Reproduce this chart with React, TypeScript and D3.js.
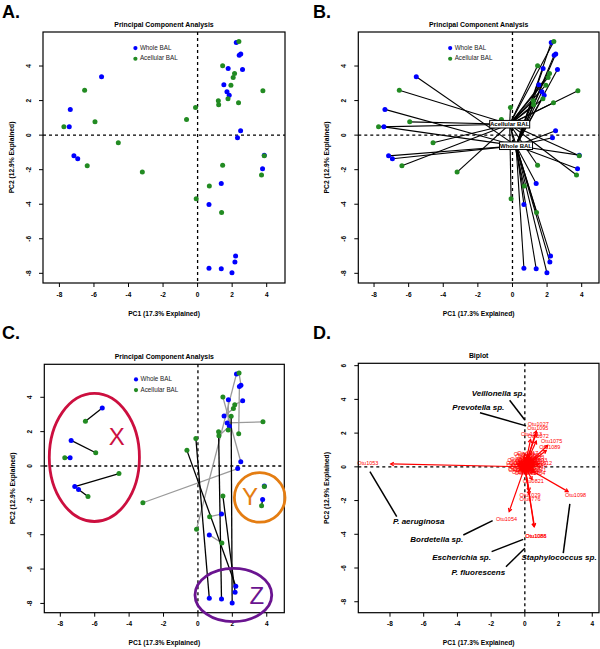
import React from "react";
import * as d3 from "d3";

// ---------- DATA ----------
// Samples are paired by index: WHOLE[i] and ACELL[i] come from the same subject.
const WHOLE_PC1 = [-5.56, -7.37, -7.43, -7.16, -6.94, 2.24, 2.5, 2.41, 1.77, 2.6, 1.52, 1.7, 1.83, 2.49, 2.31, 3.86, 3.76, 1.37, 0.66, 2.2, 2.16, 0.66, 1.37, 1.99];
const WHOLE_PC2 = [3.38, 1.49, 0.48, -1.2, -1.37, 5.36, 4.7, 4.63, 3.86, 3.8, 2.91, 2.51, 2.31, 0.25, -0.15, -1.16, -1.95, -2.8, -4.01, -7.0, -7.35, -7.7, -7.74, -7.97];
const ACELL_PC1 = [-6.54, -5.94, -7.74, -4.59, -6.39, -0.08, 2.39, 2.37, 1.76, 2.14, 2.06, 3.78, 1.22, 1.45, -3.2, 3.86, 3.7, 0.68, 1.39, -0.64, 1.45, -0.12, 1.2, 1.93];
const ACELL_PC2 = [2.6, 0.77, 0.48, -0.44, -1.77, -3.68, 5.42, 1.87, 2.1, 3.57, 3.34, 2.57, 1.76, 4.01, -2.14, -1.2, -2.31, -2.95, -4.48, 0.91, -1.74, 1.6, 1.99, 2.89];
const PAIR_GROUP = ["X", "X", "X", "X", "X", "", "", "", "", "", "", "", "", "", "", "Y", "Y", "", "", "Z", "Z", "Z", "Z", "Z"];

const GROUPS = ["Whole BAL", "Acellular BAL"];
const TICKS_ABC = [-8, -6, -4, -2, 0, 2, 4];
const TICKS_DX = [-8, -6, -4, -2, 0, 2, 4];
const TICKS_DY = [-8, -6, -4, -2, 0, 2, 4, 6];

// Panel C highlight ellipses (data units)
const ELLIPSE_LABEL = ["X", "Y", "Z"];
const ELLIPSE_CX = [-6.02, 3.59, 2.06];
const ELLIPSE_CY = [0.5, -1.83, -7.51];
const ELLIPSE_RX = [2.62, 1.47, 2.23];
const ELLIPSE_RY = [3.73, 1.44, 1.55];
const ELLIPSE_TX = [-4.72, 3.03, 3.42];
const ELLIPSE_TY = [1.71, -1.79, -7.51];

// Panel D biplot loadings (arrow tips)
const OTU_NAME = [
  "Otu1053", "Otu1054", "Otu1098", "Otu1088", "Otu1086", "Otu1029", "Otu0776", "Otu0821",
  "Otu1027", "Otu1095", "Otu1075", "Otu1013", "Otu1072", "Otu1089", "Otu1012",
  "Otu0012", "Otu0034", "Otu0101", "Otu0215", "Otu0330", "Otu0412", "Otu0458", "Otu0502",
  "Otu0561", "Otu0607", "Otu0644", "Otu0690", "Otu0713", "Otu0745", "Otu0802", "Otu0836",
  "Otu0871", "Otu0903", "Otu0937", "Otu0962", "Otu0991", "Otu1003", "Otu1017", "Otu1038",
  "Otu1041", "Otu1046", "Otu1060", "Otu1066", "Otu1079", "Otu1082", "Otu1091", "Otu1093",
  "Otu1099", "Otu1101", "Otu1104", "Otu1107"
];
const OTU_PC1 = [
  -7.96, -0.93, 2.57, 0.55, 0.57, 0.26, 0.26, 0.43,
  0.68, 0.66, 1.36, 0.34, 0.68, 1.27, 0.85,
  -0.35, -0.4, -0.3, -0.2, -0.12, 0.05, 0.12, 0.22,
  0.3, 0.38, 0.42, 0.33, 0.18, 0.03, -0.06, 0.09,
  0.18, -0.15, -0.21, 0.27, 0.5, 0.45, 0.15, -0.03,
  0.55, 0.58, -0.25, 0.09, 0.24, -0.09, 0.36, 0.6,
  0.06, -0.3, 0.52, -0.42
];
const OTU_PC2 = [
  0.17, -2.65, -1.47, -3.55, -3.53, -1.43, -1.64, -0.75,
  2.13, 1.96, 1.28, 1.62, 1.53, 0.97, 0.18,
  0.3, 0.05, -0.15, 0.35, -0.3, 0.5, 0.38, 0.3,
  0.22, 0.06, -0.06, -0.22, -0.3, -0.36, 0.18, 0.15,
  0.09, 0.09, -0.06, 0.4, 0.25, 0.45, 0.65, 0.6,
  -0.18, 0.06, 0.18, -0.18, -0.09, -0.12, 0.55, 0.33,
  0.27, -0.18, -0.33, 0.18
];

// Panel D species annotations
const SPECIES = ["Veillonella sp.", "Prevotella sp.", "P. aeruginosa", "Bordetella sp.", "Escherichia sp.", "P. fluorescens", "Staphylococcus sp."];
const SPECIES_TX = [-1.58, -2.76, -6.3, -5.23, -3.75, -2.76, 2.03];
const SPECIES_TY = [4.32, 3.51, -3.25, -4.34, -5.42, -6.31, -5.42];
const SPECIES_X1 = [-0.9, -2.66, -7.6, -3.65, -1.97, -1.12, 2.28];
const SPECIES_Y1 = [3.95, 3.21, -2.95, -4.04, -5.03, -5.92, -5.12];
const SPECIES_X2 = [0.0, 0.07, -9.19, -1.91, -0.09, 0.0, 2.67];
const SPECIES_Y2 = [2.78, 2.43, -0.28, -3.19, -4.3, -4.83, -2.2];

// ---------- STYLE ----------
const FONT = "Liberation Sans, Arial, Helvetica, sans-serif";
const BLUE = "#0000ff";
const GREEN = "#228b22";
const ELLIPSE_COLOR = ["#cc0f3f", "#e47d12", "#6a1490"];

type Lin = d3.ScaleLinear<number, number>;

function Frame({ x, y, xTicks, yTicks, title, children }: { x: Lin; y: Lin; xTicks: number[]; yTicks: number[]; title: string; children?: React.ReactNode }) {
  const [x0, x1] = x.range();
  const [y0, y1] = y.range();
  const cx = (x0 + x1) / 2;
  const cy = (y0 + y1) / 2;
  return (
    <g>
      <line x1={x0} x2={x1} y1={y(0)} y2={y(0)} stroke="#000" strokeWidth={1.3} strokeDasharray="3,3" />
      <line x1={x(0)} x2={x(0)} y1={y0} y2={y1} stroke="#000" strokeWidth={1.3} strokeDasharray="3,3" />
      {children}
      <rect x={x0} y={y0} width={x1 - x0} height={y1 - y0} fill="none" stroke="#000" strokeWidth={1.2} />
      {xTicks.map((t) => (
        <g key={"xt" + t}>
          <line x1={x(t)} x2={x(t)} y1={y1} y2={y1 + 4} stroke="#000" strokeWidth={1} />
          <text x={x(t)} y={y1 + 12} fontSize={6.5} fontWeight="bold" textAnchor="middle" dominantBaseline="middle" fontFamily={FONT}>{t}</text>
        </g>
      ))}
      {yTicks.map((t) => (
        <g key={"yt" + t}>
          <line x1={x0 - 4} x2={x0} y1={y(t)} y2={y(t)} stroke="#000" strokeWidth={1} />
          <text x={x0 - 14} y={y(t)} fontSize={6.5} fontWeight="bold" textAnchor="middle" dominantBaseline="middle" fontFamily={FONT} transform={`rotate(-90 ${x0 - 14} ${y(t)})`}>{t}</text>
        </g>
      ))}
      <text x={cx} y={y0 - 7} fontSize={6.9} fontWeight="bold" textAnchor="middle" dominantBaseline="middle" fontFamily={FONT}>{title}</text>
      <text x={cx} y={y1 + 31} fontSize={6.7} fontWeight="bold" textAnchor="middle" dominantBaseline="middle" fontFamily={FONT}>PC1 (17.3% Explained)</text>
      <text x={x0 - 31} y={cy} fontSize={6.7} fontWeight="bold" textAnchor="middle" dominantBaseline="middle" fontFamily={FONT} transform={`rotate(-90 ${x0 - 31} ${cy})`}>PC2 (12.9% Explained)</text>
    </g>
  );
}

function Legend({ x, y }: { x: Lin; y: Lin }) {
  const lx = x(-3.6);
  const ly = y(5.04);
  return (
    <g>
      {GROUPS.map((g, i) => (
        <g key={g}>
          <circle cx={lx} cy={ly + i * 10.7} r={2.1} fill={i === 0 ? BLUE : GREEN} />
          <text x={lx + 4.5} y={ly + i * 10.7} fontSize={6.3} dominantBaseline="middle" fontFamily={FONT} fill="#222">{g}</text>
        </g>
      ))}
    </g>
  );
}

function Points({ x, y }: { x: Lin; y: Lin }) {
  return (
    <g>
      {WHOLE_PC1.map((v, i) => (
        <circle key={"w" + i} cx={x(v)} cy={y(WHOLE_PC2[i])} r={2.5} fill={BLUE} />
      ))}
      {ACELL_PC1.map((v, i) => (
        <circle key={"a" + i} cx={x(v)} cy={y(ACELL_PC2[i])} r={2.5} fill={GREEN} />
      ))}
    </g>
  );
}

function arrowHead(x1: number, y1: number, x2: number, y2: number, len = 3.6) {
  const a = Math.atan2(y2 - y1, x2 - x1);
  const p1 = [x2 - len * Math.cos(a - Math.PI / 6), y2 - len * Math.sin(a - Math.PI / 6)];
  const p2 = [x2 - len * Math.cos(a + Math.PI / 6), y2 - len * Math.sin(a + Math.PI / 6)];
  return `M${p1[0]},${p1[1]}L${x2},${y2}L${p2[0]},${p2[1]}`;
}

export default function App() {
  const domX = [-8.95, 5.06];
  const domY = [5.97, -8.56];
  // Panel A
  const xA = d3.scaleLinear().domain(domX).range([43, 285]);
  const yA = d3.scaleLinear().domain(domY).range([32, 283]);
  // Panel B
  const xB = d3.scaleLinear().domain([-8.91, 5.0]).range([358.3, 599]);
  const yB = d3.scaleLinear().domain(domY).range([32, 283]);
  // Panel C
  const xC = d3.scaleLinear().domain([-8.93, 5.02]).range([44.3, 284.3]);
  const yC = d3.scaleLinear().domain([5.92, -8.54]).range([364.3, 612.7]);
  // Panel D
  const xD = d3.scaleLinear().domain([-9.88, 4.4]).range([358.3, 599]);
  const yD = d3.scaleLinear().domain([6.14, -8.65]).range([363.3, 612.7]);

  const cW = [d3.mean(WHOLE_PC1)!, d3.mean(WHOLE_PC2)!];
  const cA = [d3.mean(ACELL_PC1)!, d3.mean(ACELL_PC2)!];
  const centroids = [
    { label: "Acellular BAL", c: cA, w: 40 },
    { label: "Whole BAL", c: cW, w: 33 },
  ];

  return (
    <svg width={600} height={649} style={{ position: "absolute", left: 0, top: 0, background: "#fff" }} fontFamily={FONT}>
      <rect x={0} y={0} width={600} height={649} fill="#fff" />
      {/* Panel letters */}
      <text x={2} y={18} fontSize={18} fontWeight="bold">A.</text>
      <text x={313} y={18} fontSize={18} fontWeight="bold">B.</text>
      <text x={2} y={339} fontSize={18} fontWeight="bold">C.</text>
      <text x={313} y={339} fontSize={18} fontWeight="bold">D.</text>

      {/* Panel A */}
      <Frame x={xA} y={yA} xTicks={TICKS_ABC} yTicks={TICKS_ABC} title="Principal Component Analysis">
        <Legend x={xA} y={yA} />
        <Points x={xA} y={yA} />
      </Frame>

      {/* Panel B */}
      <Frame x={xB} y={yB} xTicks={TICKS_ABC} yTicks={TICKS_ABC} title="Principal Component Analysis">
        <Legend x={xB} y={yB} />
        {WHOLE_PC1.map((v, i) => (
          <line key={"bw" + i} x1={xB(v)} y1={yB(WHOLE_PC2[i])} x2={xB(cW[0])} y2={yB(cW[1])} stroke="#000" strokeWidth={1.1} />
        ))}
        {ACELL_PC1.map((v, i) => (
          <line key={"ba" + i} x1={xB(v)} y1={yB(ACELL_PC2[i])} x2={xB(cA[0])} y2={yB(cA[1])} stroke="#000" strokeWidth={1.1} />
        ))}
        <Points x={xB} y={yB} />
        {centroids.map((c) => (
          <g key={c.label}>
            <rect x={xB(c.c[0]) - c.w / 2} y={yB(c.c[1]) - 3.8} width={c.w} height={7.6} fill="#fff" stroke="#000" strokeWidth={1} />
            <text x={xB(c.c[0])} y={yB(c.c[1]) + 0.3} fontSize={6} fontWeight="bold" textAnchor="middle" dominantBaseline="middle">{c.label}</text>
          </g>
        ))}
      </Frame>

      {/* Panel C */}
      <Frame x={xC} y={yC} xTicks={TICKS_ABC} yTicks={TICKS_ABC} title="Principal Component Analysis">
        <Legend x={xC} y={yC} />
        {WHOLE_PC1.map((v, i) => (
          <line key={"cl" + i} x1={xC(v)} y1={yC(WHOLE_PC2[i])} x2={xC(ACELL_PC1[i])} y2={yC(ACELL_PC2[i])} stroke={PAIR_GROUP[i] ? "#000" : "#9a9a9a"} strokeWidth={1.3} />
        ))}
        <Points x={xC} y={yC} />
      </Frame>
      {ELLIPSE_LABEL.map((l, i) => {
        const cx = xC(ELLIPSE_CX[i]);
        const cy = yC(ELLIPSE_CY[i]);
        const rx = Math.abs(xC(ELLIPSE_CX[i] + ELLIPSE_RX[i]) - cx);
        const ry = Math.abs(yC(ELLIPSE_CY[i] + ELLIPSE_RY[i]) - cy);
        return (
          <g key={l}>
            <ellipse cx={cx} cy={cy} rx={rx} ry={ry} fill="none" stroke={ELLIPSE_COLOR[i]} strokeWidth={2.8} />
            <text x={xC(ELLIPSE_TX[i])} y={yC(ELLIPSE_TY[i])} fontSize={24} textAnchor="middle" dominantBaseline="central" fill={ELLIPSE_COLOR[i]}>{l}</text>
          </g>
        );
      })}

      {/* Panel D */}
      <Frame x={xD} y={yD} xTicks={TICKS_DX} yTicks={TICKS_DY} title="Biplot">
        {OTU_PC1.map((v, i) => {
          const x1 = xD(0), y1 = yD(0), x2 = xD(v), y2 = yD(OTU_PC2[i]);
          return (
            <g key={"ar" + i}>
              <line x1={x1} y1={y1} x2={x2} y2={y2} stroke="#ff0000" strokeWidth={1.2} />
              <path d={arrowHead(x1, y1, x2, y2)} fill="none" stroke="#ff0000" strokeWidth={1.2} />
            </g>
          );
        })}
        {OTU_NAME.map((n, i) => (
          <text key={"ol" + i} x={xD(OTU_PC1[i] * 1.17)} y={yD(OTU_PC2[i] * 1.17)} fontSize={5.5} fill="#ff0000" textAnchor="middle" dominantBaseline="middle">{n}</text>
        ))}
        {SPECIES.map((s, i) => (
          <g key={s}>
            <line x1={xD(SPECIES_X1[i])} y1={yD(SPECIES_Y1[i])} x2={xD(SPECIES_X2[i])} y2={yD(SPECIES_Y2[i])} stroke="#000" strokeWidth={1.5} />
            <text x={xD(SPECIES_TX[i])} y={yD(SPECIES_TY[i])} fontSize={8} fontWeight="bold" fontStyle="italic" textAnchor="middle" dominantBaseline="middle">{s}</text>
          </g>
        ))}
      </Frame>
    </svg>
  );
}
